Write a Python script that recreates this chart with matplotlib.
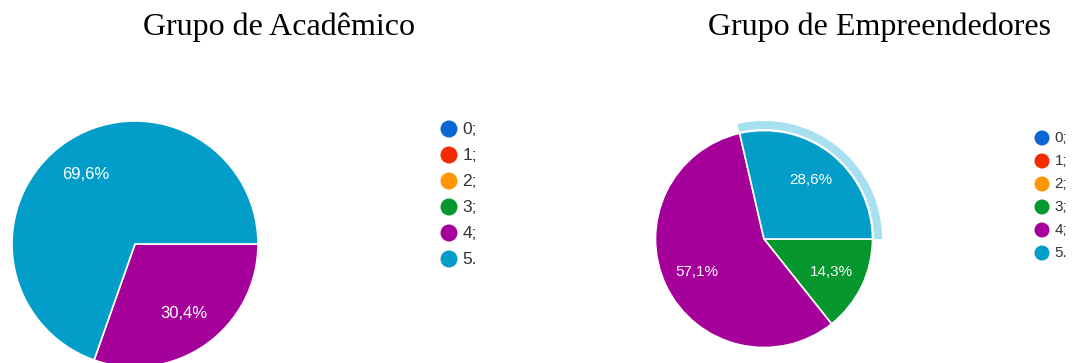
import matplotlib
matplotlib.use("Agg")
import matplotlib.pyplot as plt
from matplotlib.patches import Circle, Wedge

# answer categories and the share of each group (percent)
categorias = ["0;", "1;", "2;", "3;", "4;", "5."]
academicos = [0, 0, 0, 0, 30.4, 69.6]
empreendedores = [0, 0, 0, 14.3, 57.1, 28.6]
cores = ["#0b67d3", "#f22b00", "#ff9700", "#05962d", "#a6009a", "#039dc9"]

W, H = 1072, 363
fig = plt.figure(figsize=(W / 100, H / 100), dpi=100)
ax = fig.add_axes([0, 0, 1, 1])


def pct_label(p):
    if p < 0.5:
        return ""
    return ("%.1f%%" % p).replace(".", ",")


def desenha_pizza(valores, cx, cy, r, fs):
    wedges, _, autotexts = ax.pie(
        valores, colors=cores, center=(cx, H - cy), radius=r,
        startangle=0, counterclock=False, autopct=pct_label,
        pctdistance=0.69,
        wedgeprops=dict(edgecolor="white", linewidth=1.2),
        textprops=dict(color="white", fontsize=fs, family="Liberation Sans"))
    return wedges


def desenha_legenda(x, y0, dy, raio, fs):
    for i, (lab, cor) in enumerate(zip(categorias, cores)):
        y = H - (y0 + i * dy)
        ax.add_patch(Circle((x, y), raio, color=cor, lw=0))
        ax.text(x + raio + 5, y, lab, fontsize=fs, color="#333333",
                family="Liberation Sans", va="center", ha="left")


desenha_pizza(academicos, 135, 244, 123, 12)
w2 = desenha_pizza(empreendedores, 764, 239, 108.5, 11)

# highlight ring around the selected slice
sel = w2[5]
ax.add_patch(Wedge(sel.center, 118, sel.theta1, sel.theta2, width=8,
                   facecolor="#a7e0f0", edgecolor="none"))

desenha_legenda(449, 129, 26, 8.5, 12.5)
desenha_legenda(1042, 138, 23, 7.5, 11)

ax.text(279, H - 35, "Grupo de Acadêmico", fontsize=23,
        family="Liberation Serif", ha="center", va="baseline")
ax.text(880, H - 35, "Grupo de Empreendedores", fontsize=23,
        family="Liberation Serif", ha="center", va="baseline")

ax.set_xlim(0, W)
ax.set_ylim(0, H)
ax.set_aspect("equal")
ax.axis("off")

fig.savefig("out.png", dpi=100)
